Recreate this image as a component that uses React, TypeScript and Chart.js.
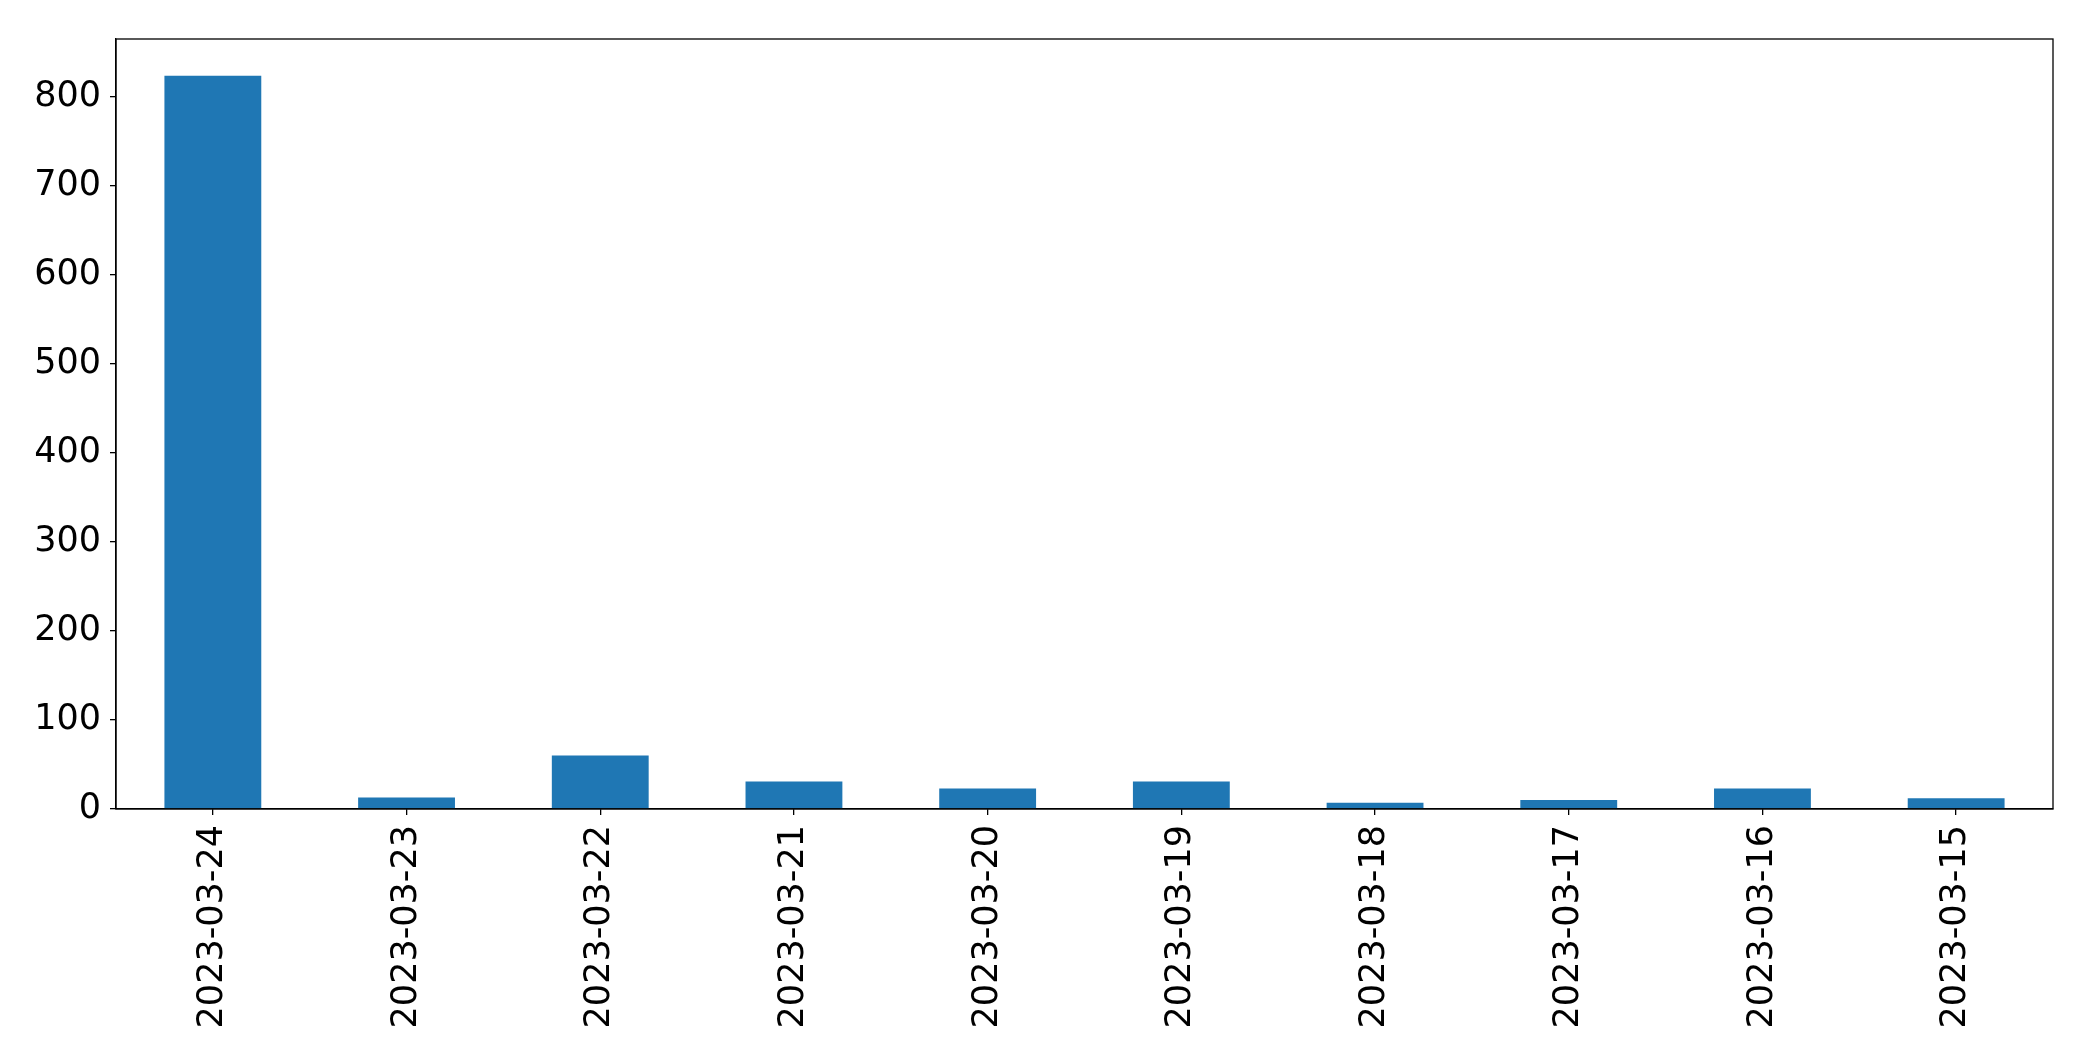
import React, { useEffect, useRef } from "react";
import { Chart, registerables } from "chart.js";

Chart.register(...registerables);

const categories = [
  "2023-03-24",
  "2023-03-23",
  "2023-03-22",
  "2023-03-21",
  "2023-03-20",
  "2023-03-19",
  "2023-03-18",
  "2023-03-17",
  "2023-03-16",
  "2023-03-15",
];
const counts = [824, 13, 60, 31, 23, 31, 7, 10, 23, 12];
const yTicks = [0, 100, 200, 300, 400, 500, 600, 700, 800];

const frame = {
  id: "frame",
  afterDraw(chart: any) {
    const { ctx, chartArea } = chart;
    ctx.save();
    ctx.strokeStyle = "#000";
    ctx.lineWidth = 1.3;
    ctx.strokeRect(chartArea.left, chartArea.top, chartArea.right - chartArea.left, chartArea.bottom - chartArea.top);
    ctx.restore();
  },
};

export default function App() {
  const ref = useRef<HTMLCanvasElement | null>(null);
  useEffect(() => {
    if (!ref.current) return;
    const maxV = Math.max(...counts) * 1.05;
    const chart = new Chart(ref.current, {
      type: "bar",
      data: {
        labels: categories,
        datasets: [
          {
            data: counts,
            backgroundColor: "#1f77b4",
            barPercentage: 0.5,
            categoryPercentage: 1,
          },
        ],
      },
      options: {
        animation: false,
        responsive: true,
        maintainAspectRatio: false,
        layout: { padding: { top: 39, right: 40, left: 0, bottom: 0 } },
        plugins: { legend: { display: false }, tooltip: { enabled: false } },
        scales: {
          x: {
            grid: { offset: false, drawOnChartArea: false, drawTicks: true, tickLength: 6, color: "#000", lineWidth: 1.3 },
            border: { display: true, color: "#000", width: 1.3 },
            ticks: {
              color: "#000",
              font: { family: "DejaVu Sans", size: 35 },
              maxRotation: 90,
              minRotation: 90,
              padding: 10,
              autoSkip: false,
            },
            afterFit(scale: any) {
              scale.height = 252;
            },
          },
          y: {
            min: 0,
            max: maxV,
            grid: { drawOnChartArea: false, drawTicks: true, tickLength: 6, color: "#000", lineWidth: 1.3 },
            border: { display: true, color: "#000", width: 1.3 },
            ticks: {
              stepSize: 100,
              includeBounds: false,
              color: "#000",
              padding: 9,
              font: { family: "DejaVu Sans", size: 35 },
            },
            afterBuildTicks(scale: any) {
              scale.ticks = yTicks.map((v) => ({ value: v }));
            },
            afterFit(scale: any) {
              scale.width = 116;
            },
          },
        },
      },
      plugins: [frame],
    });
    return () => chart.destroy();
  }, []);
  return (
    <div style={{ position: "absolute", left: 0, top: 0, width: 2093, height: 1061, background: "#fff" }}>
      <canvas ref={ref} />
    </div>
  );
}
